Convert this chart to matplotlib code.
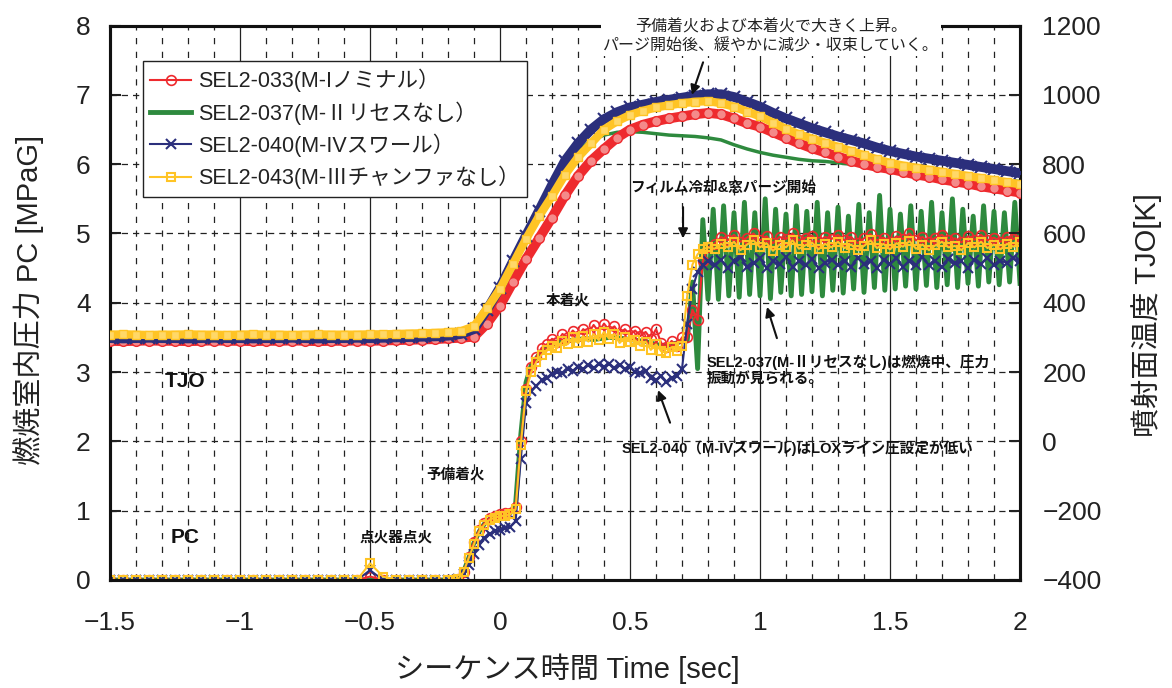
import numpy as np
import matplotlib
matplotlib.use("Agg")
import matplotlib.pyplot as plt
from matplotlib.ticker import MultipleLocator

plt.rcParams['font.family'] = ['Liberation Sans', 'Noto Sans CJK JP']
plt.rcParams['axes.unicode_minus'] = True

# ---- data -------------------------------------------------------------
labels = ["SEL2-033(M-Iノミナル）", "SEL2-037(M-Ⅱリセスなし）",
          "SEL2-040(M-IVスワール）", "SEL2-043(M-Ⅲチャンファなし）"]

# TJO [K], sampled every 0.05 s from -1.5 to 2.0
tjo_t = np.round(np.arange(-1.5, 2.0001, 0.05), 2)
tjo_red = [290, 289, 290, 291, 290, 290, 289, 290, 291, 290, 290, 289, 290, 290, 291, 290, 289, 290, 290, 291, 290,
           291, 292, 293, 294, 295, 297, 299, 302, 340, 392, 460, 526, 586, 646, 710, 766, 810, 844, 876, 900,
           914, 924, 932, 938, 944, 948, 944, 932, 918, 908, 892, 876, 860, 846, 834, 822, 810, 800, 792, 786,
           778, 770, 764, 756, 750, 744, 736, 730, 724, 718]
tjo_grn = [300, 301, 300, 299, 300, 300, 301, 300, 300, 299, 300, 301, 300, 300, 299, 300, 301, 300, 300, 300, 300,
           300, 301, 302, 303, 304, 306, 312, 330, 390, 460, 532, 606, 676, 744, 800, 840, 868, 884, 892, 894,
           892, 888, 884, 882, 880, 876, 870, 856, 844, 834, 826, 820, 814, 810, 808, 804, 800, 798, 794, 790,
           786, 782, 778, 774, 770, 766, 762, 758, 754, 750]
tjo_nav = [298, 297, 298, 299, 298, 298, 297, 298, 299, 298, 298, 297, 298, 298, 299, 298, 297, 298, 298, 299, 298,
           299, 300, 301, 302, 303, 305, 310, 324, 380, 444, 520, 594, 666, 740, 810, 860, 900, 930, 950, 964,
           972, 980, 986, 992, 998, 1002, 1002, 994, 980, 966, 948, 932, 918, 904, 892, 880, 870, 860, 848, 838,
           830, 822, 816, 810, 804, 798, 792, 786, 780, 774]
tjo_yel = [308, 309, 308, 307, 308, 308, 309, 308, 308, 307, 308, 309, 308, 308, 307, 308, 309, 308, 308, 308, 309,
           309, 310, 311, 312, 313, 315, 318, 332, 384, 440, 512, 584, 650, 708, 770, 820, 860, 900, 924, 942,
           954, 964, 970, 976, 980, 982, 976, 966, 952, 938, 920, 902, 886, 874, 862, 850, 838, 826, 814, 804,
           796, 790, 784, 778, 772, 766, 760, 754, 748, 742]

# PC [MPaG] sample times
pc_t_a = np.round(np.arange(-1.5, -0.199, 0.05), 3)      # 27
pc_t_b = np.round(np.arange(-0.18, 0.1001, 0.02), 3)     # 15
pc_t_c = np.round(np.arange(0.12, 0.7001, 0.02), 3)      # 30
pc_t_d = [0.72, 0.74, 0.76, 0.78, 0.80]
pc_t_e = np.round(np.arange(0.825, 2.0001, 0.025), 3)    # 48
osc_t = np.round(np.arange(0.72, 2.0001, 0.02), 3)       # 65 (SEL2-037)

red_a = [0, 0, 0, 0, 0, 0, 0, 0, 0, 0, 0, 0, 0, 0, 0, 0, 0, 0, 0, 0, 0.05, 0, 0, 0, 0, 0, 0]
yel_a = [0, 0, 0, 0, 0, 0, 0, 0, 0, 0, 0, 0, 0, 0, 0, 0, 0, 0, 0, 0, 0.24, 0.05, 0, 0, 0, 0, 0]
nav_a = [0, 0, 0, 0, 0, 0, 0, 0, 0, 0, 0, 0, 0, 0, 0, 0, 0, 0, 0, 0, 0.14, 0, 0, 0, 0, 0, 0]
grn_a = [0, 0, 0, 0, 0, 0, 0, 0, 0, 0, 0, 0, 0, 0, 0, 0, 0, 0, 0, 0, 0, 0, 0, 0, 0, 0, 0]

red_b = [0.0, 0.02, 0.12, 0.33, 0.55, 0.72, 0.82, 0.9, 0.93, 0.95, 0.96, 0.97, 1.05, 2.0, 2.75]
yel_b = [0.0, 0.02, 0.12, 0.32, 0.52, 0.7, 0.8, 0.87, 0.9, 0.92, 0.93, 0.95, 1.02, 1.95, 2.72]
nav_b = [0.0, 0.01, 0.08, 0.22, 0.38, 0.5, 0.6, 0.66, 0.7, 0.72, 0.75, 0.77, 0.85, 1.75, 2.55]
grn_b = [0.0, 0.02, 0.12, 0.32, 0.54, 0.7, 0.81, 0.88, 0.92, 0.94, 0.95, 0.97, 1.1, 2.1, 2.85]

red_c = [3.08, 3.22, 3.35, 3.4, 3.48, 3.44, 3.55, 3.5, 3.6, 3.52, 3.62, 3.56, 3.68, 3.58, 3.7,
         3.6, 3.66, 3.55, 3.62, 3.54, 3.6, 3.52, 3.58, 3.48, 3.62, 3.42, 3.36, 3.45, 3.38, 3.5]
yel_c = [3.0, 3.15, 3.25, 3.32, 3.38, 3.35, 3.45, 3.4, 3.5, 3.42, 3.52, 3.44, 3.55, 3.46, 3.58,
         3.48, 3.55, 3.42, 3.5, 3.44, 3.46, 3.38, 3.44, 3.32, 3.4, 3.3, 3.28, 3.36, 3.3, 3.38]
nav_c = [2.72, 2.8, 2.88, 2.92, 2.97, 3.0, 2.98, 3.05, 3.02, 3.08, 3.04, 3.1, 3.06, 3.12, 3.08,
         3.12, 3.06, 3.1, 3.04, 3.08, 3.0, 2.98, 3.02, 2.92, 2.88, 2.95, 2.86, 2.92, 2.95, 3.05]
grn_c = [3.1, 3.2, 3.3, 3.36, 3.4, 3.42, 3.44, 3.45, 3.46, 3.47, 3.48, 3.48, 3.47, 3.48, 3.49,
         3.5, 3.5, 3.49, 3.48, 3.47, 3.46, 3.45, 3.44, 3.42, 3.4, 3.38, 3.38, 3.4, 3.42, 3.45]

red_d = [3.5, 3.9, 3.75, 4.6, 4.8]
yel_d = [4.1, 4.55, 4.7, 4.77, 4.8]
nav_d = [3.7, 4.2, 4.45, 4.55, 4.6]

red_e = [4.85, 4.95, 4.9, 4.98, 4.88, 4.94, 5.0, 4.9, 4.96, 4.86, 4.95, 4.92, 5.0, 4.9, 4.94, 4.97,
         4.88, 4.95, 4.92, 4.98, 4.9, 4.95, 4.86, 4.93, 4.99, 4.9, 4.94, 4.88, 4.96, 4.92, 5.0, 4.9,
         4.95, 4.88, 4.94, 4.98, 4.9, 4.93, 4.87, 4.96, 4.91, 4.98, 4.9, 4.94, 4.88, 4.95, 4.92, 4.97]
yel_e = [4.78, 4.85, 4.8, 4.88, 4.76, 4.84, 4.9, 4.8, 4.86, 4.75, 4.84, 4.8, 4.9, 4.78, 4.83, 4.87,
         4.77, 4.85, 4.8, 4.88, 4.79, 4.84, 4.76, 4.82, 4.9, 4.79, 4.85, 4.77, 4.86, 4.81, 4.89, 4.78,
         4.84, 4.76, 4.83, 4.88, 4.8, 4.82, 4.76, 4.86, 4.8, 4.88, 4.79, 4.84, 4.77, 4.85, 4.81, 4.87]
nav_e = [4.55, 4.62, 4.5, 4.6, 4.66, 4.52, 4.58, 4.64, 4.5, 4.6, 4.56, 4.66, 4.52, 4.6, 4.55, 4.63,
         4.5, 4.58, 4.62, 4.54, 4.6, 4.52, 4.65, 4.56, 4.6, 4.5, 4.62, 4.56, 4.64, 4.52, 4.6, 4.55,
         4.66, 4.54, 4.6, 4.52, 4.63, 4.57, 4.6, 4.5, 4.62, 4.56, 4.65, 4.55, 4.6, 4.58, 4.64, 4.6]
# SEL2-037 pressure oscillation after purge start
grn_osc = [3.45, 4.3, 3.05, 5.2, 4.05, 5.35, 4.05, 5.4, 4.1, 5.3, 4.08, 5.45, 4.12, 5.3, 4.1, 5.5,
           4.06, 5.35, 4.15, 5.28, 4.1, 5.4, 4.12, 5.32, 4.16, 5.45, 4.1, 5.3, 4.18, 5.38, 4.14, 5.25,
           4.2, 5.42, 4.15, 5.3, 4.22, 5.55, 4.18, 5.35, 4.2, 5.28, 4.24, 5.4, 4.2, 5.32, 4.25, 5.45,
           4.22, 5.3, 4.26, 5.5, 4.22, 5.35, 4.28, 5.25, 4.24, 5.4, 4.3, 5.32, 4.26, 5.3, 4.3, 5.45, 4.28]

pc_t = np.concatenate([pc_t_a, pc_t_b, pc_t_c, pc_t_d, pc_t_e])
pc_t_grn = np.concatenate([pc_t_a, pc_t_b, pc_t_c, osc_t])
pc_red = red_a + red_b + red_c + red_d + red_e
pc_yel = yel_a + yel_b + yel_c + yel_d + yel_e
pc_nav = nav_a + nav_b + nav_c + nav_d + nav_e
pc_grn = grn_a + grn_b + grn_c + grn_osc

RED = '#ee2a2e'
GRN = '#2e8a3e'
NAV = '#2b2f7c'
YEL = '#ffc425'

# ---- figure -----------------------------------------------------------
fig = plt.figure(figsize=(11.72, 6.88), dpi=100)
ax = fig.add_axes([0.0939, 0.157, 0.7764, 0.8058])
ax2 = ax.twinx()

ax.set_xlim(-1.5, 2.0)
ax.set_ylim(0, 8)
ax2.set_ylim(-400, 1200)

# PC curves (left axis)
ax.plot(pc_t_grn, pc_grn, color=GRN, lw=3.5, zorder=2)
ax.plot(pc_t, pc_red, color=RED, lw=1.5, marker='o', ms=7, mfc='none', mec=RED, mew=1.2, zorder=3)
ax.plot(pc_t, pc_nav, color=NAV, lw=1.5, marker='x', ms=7, mew=1.5, zorder=3)
ax.plot(pc_t, pc_yel, color=YEL, lw=1.5, marker='s', ms=6, mfc='none', mec=YEL, mew=1.5, zorder=4)

# TJO curves (right axis)
ax2.plot(tjo_t, tjo_grn, color=GRN, lw=2.5, zorder=2)
ax2.plot(tjo_t, tjo_red, color=RED, lw=7, marker='o', ms=7, mfc='#f48a8a', mec=RED, mew=1, zorder=3)
ax2.plot(tjo_t, tjo_nav, color=NAV, lw=7, marker='x', ms=8, mew=1.5, zorder=3)
ax2.plot(tjo_t, tjo_yel, color=YEL, lw=6, marker='s', ms=6, mfc='#ffd868', mec=YEL, mew=1, zorder=4)

# grid
ax.xaxis.set_major_locator(MultipleLocator(0.5))
ax.xaxis.set_minor_locator(MultipleLocator(0.1))
ax.yaxis.set_major_locator(MultipleLocator(1))
ax.xaxis.grid(True, which='major', color='#222222', lw=0.9, ls='-')
ax.xaxis.grid(True, which='minor', color='#222222', lw=0.9, ls=(0, (5, 6)))
ax.yaxis.grid(True, which='major', color='#222222', lw=0.9, ls=(0, (5, 4)))
ax.set_axisbelow(True)

ax.set_xticks([-1.5, -1, -0.5, 0, 0.5, 1, 1.5, 2])
ax.set_xticklabels(['−1.5', '−1', '−0.5', '0', '0.5', '1', '1.5', '2'])
ax.tick_params(axis='x', which='both', length=0, pad=22, labelsize=19, colors='#222222')
ax.tick_params(axis='y', direction='in', length=8, width=1.5, pad=14, labelsize=19, colors='#222222')
ax2.set_yticks(np.arange(-400, 1201, 200))
ax2.tick_params(axis='y', direction='in', length=8, width=1.5, pad=16, labelsize=19, colors='#222222')

for a in (ax, ax2):
    for s in a.spines.values():
        s.set_linewidth(2.2)
        s.set_color('#111111')

ax.set_xlabel('シーケンス時間 Time [sec]', fontsize=21, color='#222222')
ax.set_ylabel('燃焼室内圧力 PC [MPaG]', fontsize=21, color='#222222')
ax2.set_ylabel('噴射面温度 TJO[K]', fontsize=21, color='#222222')
ax.xaxis.set_label_coords(0.503, -0.132)
ax.yaxis.set_label_coords(-0.073, 0.505)
ax2.yaxis.set_label_coords(1.122, 0.478)

# legend
handles = ax.get_lines()
order = [1, 0, 2, 3]
leg = ax2.legend([handles[i] for i in order], labels, loc='upper left',
                 bbox_to_anchor=(0.036, 0.936), borderaxespad=0, fontsize=15.5,
                 numpoints=1, handlelength=1.9, handletextpad=0.3, labelspacing=0.42,
                 borderpad=0.35, fancybox=False, framealpha=1, edgecolor='#222222')
leg.get_frame().set_linewidth(1.0)
for txt in leg.get_texts():
    txt.set_color('#222222')

# annotations (placed in PC coordinates)
tr = ax.transData
bold = dict(fontsize=10.5, fontweight='bold', color='#111111', transform=tr, zorder=6)
ax2.text(-1.21, 2.86, 'TJO', ha='center', va='center', fontsize=15, fontweight='bold', color='#111111', transform=tr)
ax2.text(-1.21, 0.62, 'PC', ha='center', va='center', fontsize=15, fontweight='bold', color='#111111', transform=tr)
ax2.text(-0.40, 0.61, '点火器点火', ha='center', va='center', **bold)
ax2.text(-0.17, 1.52, '予備着火', ha='center', va='center', **bold)
ax2.text(0.262, 4.04, '本着火', ha='center', va='center', **bold)
ax2.text(0.858, 5.66, 'フィルム冷却&窓パージ開始', ha='center', va='center', **bold)
ax2.text(0.796, 3.02, 'SEL2-037(M-Ⅱリセスなし)は燃焼中、圧力\n振動が見られる。',
         ha='left', va='center', linespacing=1.25, **bold)
ax2.text(0.469, 1.90, 'SEL2-040（M-IVスワール)はLOXライン圧設定が低い', ha='left', va='center', **bold)
ax2.text(1.042, 7.84, '予備着火および本着火で大きく上昇。\nパージ開始後、緩やかに減少・収束していく。',
         ha='center', va='center', fontsize=11.5, color='#222222', linespacing=1.3, transform=tr,
         zorder=7, clip_on=False,
         bbox=dict(boxstyle='square,pad=0.15', fc='white', ec='none'))

arrow = dict(arrowstyle='-|>', color='#111111', lw=1.5, mutation_scale=14, shrinkA=0, shrinkB=0)
ax2.annotate('', xy=(0.738, 7.0), xytext=(0.781, 7.47), xycoords=tr, textcoords=tr, arrowprops=arrow, zorder=7)
ax2.annotate('', xy=(0.704, 4.93), xytext=(0.704, 5.38), xycoords=tr, textcoords=tr, arrowprops=arrow, zorder=7)
ax2.annotate('', xy=(1.027, 3.94), xytext=(1.065, 3.49), xycoords=tr, textcoords=tr, arrowprops=arrow, zorder=7)
ax2.annotate('', xy=(0.608, 2.74), xytext=(0.654, 2.27), xycoords=tr, textcoords=tr, arrowprops=arrow, zorder=7)

fig.savefig('out.png', dpi=100)
